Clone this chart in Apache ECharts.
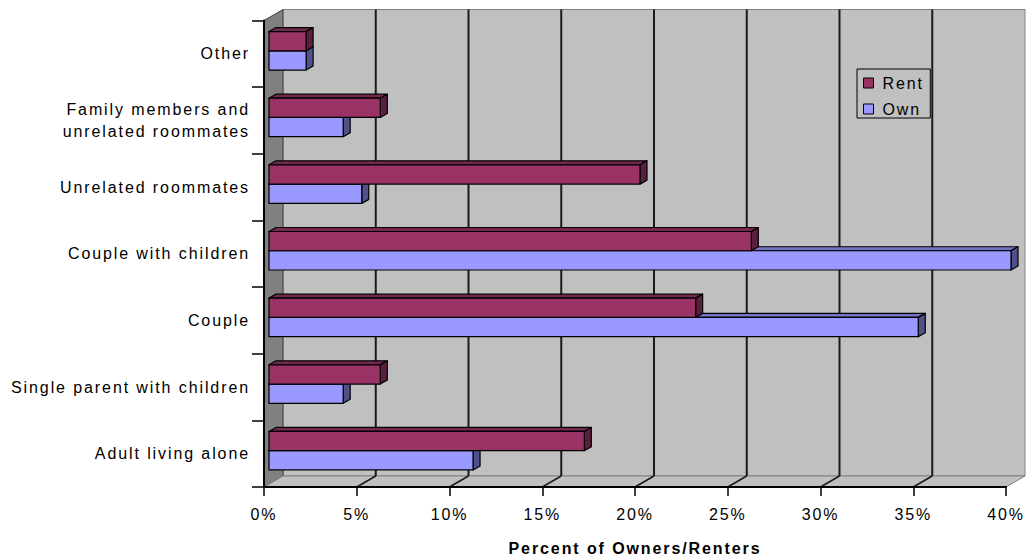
<!DOCTYPE html>
<html>
<head>
<meta charset="utf-8">
<script src="https://cdn.jsdelivr.net/npm/echarts@6/dist/echarts.min.js"></script>
<style>
  html, body { margin: 0; padding: 0; background: #ffffff; }
  #main { width: 1026px; height: 556px; }
  /* wide tracking on all chart text */
  #main text { letter-spacing: 1.9px; }
</style>
</head>
<body>
<div id="main"></div>
<script>
// Household types, listed bottom to top as they appear on the category axis
const categories = [
  'Adult living alone',
  'Single parent with children',
  'Couple',
  'Couple with children',
  'Unrelated roommates',
  'Family members and\nunrelated roommates',
  'Other'
];
// Percent of renters / owners in each household type
const rentValues = [17, 6, 23, 26, 20, 6, 2];
const ownValues  = [11, 4, 35, 40, 5, 4, 2];
// Percent axis ticks
const percentTicks = [0, 5, 10, 15, 20, 25, 30, 35, 40];

// Oblique projection used for the 3-D look
const WALL_DX = 19, WALL_DY = -11;      // depth of the whole plot box
const BAR_FX = 5, BAR_FY = -3;          // front face of bars sits slightly inside
const BAR_DX = 7, BAR_DY = -4;          // thickness of each bar
const BAR_FRAC = 0.289;                 // bar height as a share of a category band

const COLORS = {
  rent: { front: '#993366', top: '#742850', side: '#5a1e3e' },
  own:  { front: '#9999ff', top: '#7474c4', side: '#50508c' }
};

const FONT = 'Liberation Sans';

// Walls, floor and gridlines of the 3-D plot box
function renderFrame(params, api) {
  const cs = params.coordSys;
  const L = cs.x, T = cs.y, R = cs.x + cs.width, B = cs.y + cs.height;
  const children = [];
  // back wall
  children.push({
    type: 'rect',
    shape: { x: L + WALL_DX, y: T + WALL_DY, width: cs.width, height: cs.height },
    style: { fill: '#c0c0c0', stroke: '#808080', lineWidth: 1 }
  });
  // left side wall
  children.push({
    type: 'polygon',
    shape: { points: [[L, T], [L + WALL_DX, T + WALL_DY], [L + WALL_DX, B + WALL_DY], [L, B]] },
    style: { fill: '#808080', stroke: '#404040', lineWidth: 1 }
  });
  // floor
  children.push({
    type: 'polygon',
    shape: { points: [[L, B], [L + WALL_DX, B + WALL_DY], [R + WALL_DX, B + WALL_DY], [R, B]] },
    style: { fill: '#c0c0c0', stroke: '#808080', lineWidth: 1 }
  });
  const last = percentTicks[percentTicks.length - 1];
  percentTicks.forEach(function (v) {
    if (v === 0 || v === last) return;
    const x = api.coord([v, 0])[0];
    // gridline on the back wall
    children.push({
      type: 'line',
      shape: { x1: x + WALL_DX, y1: T + WALL_DY, x2: x + WALL_DX, y2: B + WALL_DY },
      style: { stroke: '#1a1a1a', lineWidth: 2 }
    });
    // gridline running across the floor
    children.push({
      type: 'line',
      shape: { x1: x, y1: B, x2: x + WALL_DX, y2: B + WALL_DY },
      style: { stroke: '#1a1a1a', lineWidth: 1.5 }
    });
  });
  return { type: 'group', children: children };
}

// A 3-D bar: top face, end face, then the front face
function makeBarRenderer(upper, c) {
  return function (params, api) {
    const v = api.value(0);
    const idx = api.value(1);
    const p0 = api.coord([0, idx]);
    const p1 = api.coord([v, idx]);
    const band = api.size([0, 1])[1];
    const h = band * BAR_FRAC;
    const x1 = p0[0] + BAR_FX;
    const x2 = p1[0] + BAR_FX;
    const y1 = (upper ? p0[1] - h : p0[1]) + BAR_FY;
    const y2 = y1 + h;
    const stroke = { stroke: '#000', lineWidth: 1.2, lineJoin: 'round' };
    return {
      type: 'group',
      children: [
        {
          type: 'polygon',
          shape: { points: [[x1, y1], [x2, y1], [x2 + BAR_DX, y1 + BAR_DY], [x1 + BAR_DX, y1 + BAR_DY]] },
          style: Object.assign({ fill: c.top }, stroke)
        },
        {
          type: 'polygon',
          shape: { points: [[x2, y1], [x2 + BAR_DX, y1 + BAR_DY], [x2 + BAR_DX, y2 + BAR_DY], [x2, y2]] },
          style: Object.assign({ fill: c.side }, stroke)
        },
        {
          type: 'rect',
          shape: { x: x1, y: y1, width: x2 - x1, height: h },
          style: Object.assign({ fill: c.front }, stroke)
        }
      ]
    };
  };
}

const chart = echarts.init(document.getElementById('main'), null, { renderer: 'svg' });

chart.setOption({
  backgroundColor: '#ffffff',
  animation: false,
  textStyle: { fontFamily: FONT },
  grid: { left: 264, right: 20, top: 20.5, bottom: 69, containLabel: false, outerBoundsMode: 'none' },
  legend: {
    orient: 'vertical',
    left: 857,
    top: 69,
    padding: [6, 14, 1, 6],
    itemGap: 10,
    itemWidth: 10,
    itemHeight: 10,
    icon: 'rect',
    backgroundColor: '#c0c0c0',
    borderColor: '#000',
    borderWidth: 1,
    borderRadius: 0,
    textStyle: { fontFamily: FONT, fontSize: 16, color: '#000', lineHeight: 16, padding: [0, 0, 0, 4] },
    data: [
      { name: 'Rent', itemStyle: { color: COLORS.rent.front, borderColor: '#000', borderWidth: 1 } },
      { name: 'Own', itemStyle: { color: COLORS.own.front, borderColor: '#000', borderWidth: 1 } }
    ]
  },
  xAxis: {
    type: 'value',
    min: 0,
    max: 40,
    interval: 5,
    z: 5,
    name: 'Percent of Owners/Renters',
    nameLocation: 'middle',
    nameGap: 53,
    nameTextStyle: { fontFamily: FONT, fontSize: 16, fontWeight: 'bold', color: '#000' },
    axisLine: { show: true, lineStyle: { color: '#000', width: 2 } },
    axisTick: { show: true, length: 9, lineStyle: { color: '#000', width: 1.5 } },
    axisLabel: { fontFamily: FONT, fontSize: 16, color: '#000', margin: 19, formatter: '{value}%' },
    splitLine: { show: false }
  },
  yAxis: {
    type: 'category',
    data: categories,
    z: 5,
    axisLine: { show: true, lineStyle: { color: '#000', width: 2 } },
    axisTick: { show: true, length: 12, interval: 0, lineStyle: { color: '#000', width: 1.5 } },
    axisLabel: { fontFamily: FONT, fontSize: 16, color: '#000', margin: 14, lineHeight: 22, interval: 0 },
    splitLine: { show: false }
  },
  series: [
    {
      name: 'frame',
      type: 'custom',
      z: 1,
      silent: true,
      renderItem: renderFrame,
      data: [[0, 0]],
      encode: { x: 0, y: 1 }
    },
    {
      name: 'Own',
      type: 'custom',
      z: 2,
      itemStyle: { color: COLORS.own.front },
      renderItem: makeBarRenderer(false, COLORS.own),
      data: ownValues.map(function (v, i) { return [v, i]; }),
      encode: { x: 0, y: 1 }
    },
    {
      name: 'Rent',
      type: 'custom',
      z: 3,
      itemStyle: { color: COLORS.rent.front },
      renderItem: makeBarRenderer(true, COLORS.rent),
      data: rentValues.map(function (v, i) { return [v, i]; }),
      encode: { x: 0, y: 1 }
    }
  ]
});
</script>
</body>
</html>
